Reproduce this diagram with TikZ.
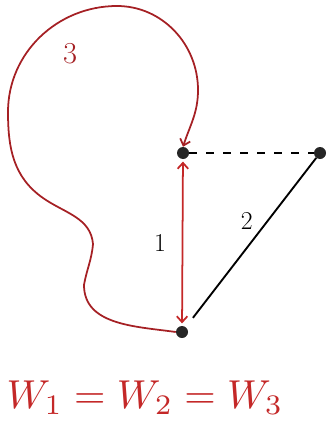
\documentclass[tikz,border=0pt]{standalone}
\usepackage{amsmath}
\usetikzlibrary{arrows.meta}

\definecolor{penred}{RGB}{196,40,40}
\definecolor{loopred}{RGB}{165,32,36}

\begin{document}
\begin{tikzpicture}[x=0.03cm, y=-0.03cm, >={Straight Barb[length=5pt,width=9pt]}]

\useasboundingbox (0,0) rectangle (328,424);

\tikzset{dot/.style={circle, fill=black!85, inner sep=0pt, minimum size=0.36cm}}

\node[dot] (A) at (183,153) {};
\node[dot] (B) at (182,332) {};
\node[dot] (C) at (320,153) {};

\draw[dash pattern=on 0.24cm off 0.27cm, line width=1.6pt] (A) -- (C);

\draw[line width=1.6pt, shorten <=0.35cm] (B) -- (C)
node[pos=0.55, above left, font=\fontsize{22}{26}\selectfont] {2};

\draw[<->, line width=1.5pt, penred, shorten <=2pt, shorten >=2pt] (A) -- (B)
node[midway, left=0.35cm, black, font=\fontsize{22}{26}\selectfont] {1};

\draw[->, line width=1.5pt, loopred] (B.west)
to[out=172, in=-90] (84,285)
to[out=80, in=-95] (93,244)
to[out=95, in=-35] (43,198)
to[out=145, in=-90] (8,112)
to[out=90, in=180] (117,6)
to[out=0, in=90] (198,90)
to[out=-90, in=72] (A.north);

\node[loopred, font=\fontsize{26}{30}\selectfont] (n3) at (70,54) {3};

\node[penred] (eq) at (145,398) {\resizebox{8.3cm}{!}{$W_1 = W_2 = W_3$}};

\end{tikzpicture}
\end{document}
